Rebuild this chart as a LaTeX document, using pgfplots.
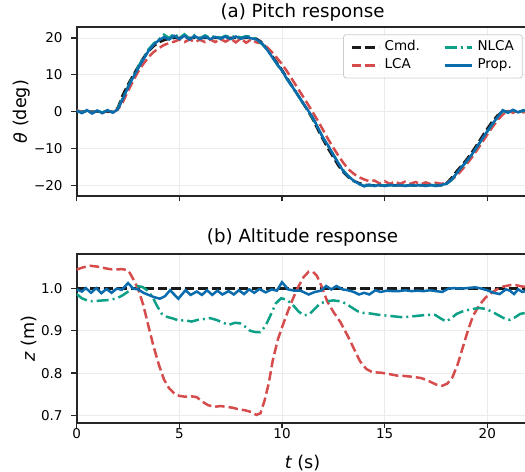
\documentclass[border=0pt]{standalone}
\usepackage{pgfplots}
\pgfplotsset{compat=1.18}
\usepackage{fontspec}
\setmainfont{DejaVu Sans}
\definecolor{cmdc}{HTML}{1A1A1A}
\definecolor{lcac}{HTML}{D64C4C}
\definecolor{nlcac}{HTML}{0FA088}
\definecolor{propc}{HTML}{0A6BAD}
\definecolor{gridc}{HTML}{EBEBEB}
\definecolor{spinec}{HTML}{262626}
\pgfplotsset{
  myaxis/.style={
    scale only axis, width=451.7bp, height=168.7bp,
    xmin=0, xmax=22,
    axis line style={spinec, line width=1.7bp},
    tick align=outside,
    major tick length=5.5bp,
    every tick/.style={spinec, line width=1.2bp},
    xtick={0,5,10,15,20},
    xtick pos=lower, ytick pos=left,
    grid=major,
    major grid style={gridc, line width=0.8bp},
    tick label style={font=\fontsize{13.5bp}{16bp}\selectfont},
    xticklabel style={inner sep=0pt, yshift=-0.5bp},
    yticklabel style={inner sep=0pt, xshift=-8.5bp},
    label style={font=\fontsize{17.6bp}{20bp}\selectfont, inner sep=0pt},
  },
  cmdst/.style={cmdc, line width=2.5bp, dash pattern=on 9.5bp off 4bp},
  lcast/.style={lcac, line width=2.5bp, dash pattern=on 9.5bp off 4bp},
  nlcast/.style={nlcac, line width=2.5bp, dash pattern=on 12bp off 4bp on 2bp off 4bp},
  propst/.style={propc, line width=2.5bp},
}
\begin{document}
\begin{tikzpicture}
% ---------------- bottom: altitude ----------------
\begin{axis}[myaxis, name=bot, at={(0,0)}, anchor=south west,
  ymin=0.6826, ymax=1.0818,
  ytick={0.7,0.8,0.9,1.0}, yticklabels={0.7,0.8,0.9,1.0},
  xticklabels={0,5,10,15,20},
  title={(b) Altitude response},
  every axis title/.style={at={(axis description cs:0.5,1.098)}, anchor=center, inner sep=0pt, font=\fontsize{18.2bp}{21bp}\selectfont},
  xlabel={{\itshape t} (s)},
  xlabel style={at={(axis description cs:0.5,-0.2371)}, anchor=center},
  ylabel={{\itshape z} (m)},
  ylabel style={at={(axis description cs:-0.087,0.5)}, anchor=south},
]
\addplot[cmdst] coordinates {(0,1.0) (22,1.0)};
\addplot[lcast] coordinates {(0,1.045)(0.3,1.050)(0.65,1.054)(1.0,1.052)(1.3,1.049)(1.6,1.046)(1.9,1.045)(2.2,1.046)(2.45,1.044)(2.6,1.036)(2.8,1.018)(3.0,0.998)(3.25,0.960)(3.5,0.910)(3.75,0.862)(4.0,0.820)(4.25,0.785)(4.5,0.764)(4.75,0.752)(5.0,0.746)(5.3,0.744)(5.6,0.745)(5.85,0.743)(6.1,0.733)(6.4,0.724)(6.7,0.720)(7.0,0.722)(7.3,0.720)(7.6,0.718)(7.9,0.714)(8.2,0.712)(8.5,0.708)(8.75,0.701)(8.95,0.705)(9.15,0.735)(9.35,0.775)(9.55,0.830)(9.8,0.880)(10.05,0.915)(10.3,0.948)(10.55,0.978)(10.8,1.005)(11.05,1.027)(11.3,1.040)(11.5,1.040)(11.7,1.030)(11.95,1.003)(12.2,0.970)(12.5,0.945)(12.85,0.920)(13.2,0.888)(13.5,0.858)(13.8,0.828)(14.1,0.810)(14.4,0.802)(14.8,0.801)(15.2,0.798)(15.6,0.794)(16.0,0.793)(16.4,0.791)(16.8,0.788)(17.2,0.780)(17.5,0.773)(17.8,0.770)(18.05,0.775)(18.3,0.790)(18.55,0.820)(18.8,0.860)(19.05,0.900)(19.3,0.935)(19.6,0.960)(19.9,0.978)(20.2,0.990)(20.5,0.999)(20.8,1.005)(21.1,1.008)(21.4,1.008)(21.7,1.005)(22.0,1.003)};
\addplot[nlcast] coordinates {(0,0.987)(0.25,0.977)(0.5,0.972)(0.75,0.970)(1.0,0.971)(1.3,0.972)(1.6,0.973)(1.95,0.977)(2.2,0.983)(2.45,0.991)(2.7,1.000)(2.95,1.006)(3.2,1.004)(3.45,0.995)(3.7,0.980)(3.9,0.960)(4.15,0.940)(4.4,0.933)(4.7,0.929)(5.0,0.924)(5.25,0.925)(5.6,0.922)(5.9,0.926)(6.2,0.928)(6.5,0.930)(6.8,0.926)(7.1,0.920)(7.4,0.914)(7.7,0.919)(7.95,0.918)(8.2,0.910)(8.45,0.900)(8.7,0.897)(8.95,0.897)(9.2,0.912)(9.45,0.938)(9.7,0.965)(9.95,0.977)(10.2,0.974)(10.5,0.963)(10.8,0.946)(11.05,0.937)(11.3,0.938)(11.6,0.952)(11.85,0.965)(12.2,0.970)(12.5,0.972)(12.8,0.970)(13.1,0.965)(13.4,0.955)(13.7,0.946)(14.0,0.942)(14.3,0.941)(14.7,0.938)(15.1,0.936)(15.5,0.934)(15.9,0.932)(16.3,0.934)(16.7,0.936)(17.1,0.938)(17.45,0.938)(17.7,0.930)(18.0,0.922)(18.25,0.930)(18.5,0.940)(18.8,0.946)(19.2,0.951)(19.6,0.954)(19.9,0.952)(20.2,0.946)(20.5,0.938)(20.8,0.930)(21.1,0.926)(21.35,0.932)(21.6,0.940)(22.0,0.944)};
\addplot[propst] coordinates {(0,0.998)(0.25,0.993)(0.45,1.001)(0.7,0.990)(0.95,1.001)(1.2,0.989)(1.45,0.999)(1.7,0.990)(1.95,1.000)(2.2,0.997)(2.5,1.013)(2.75,1.000)(3.0,0.998)(3.25,0.990)(3.5,0.985)(3.75,0.980)(4.05,0.976)(4.3,0.982)(4.55,0.996)(4.95,0.976)(5.3,0.996)(5.55,0.985)(5.85,0.993)(6.1,0.985)(6.35,0.996)(6.6,0.985)(6.85,0.995)(7.1,0.986)(7.4,0.994)(7.65,0.986)(7.9,0.996)(8.15,0.987)(8.4,0.998)(8.65,0.990)(8.9,0.999)(9.2,0.991)(9.5,0.998)(9.75,0.995)(10.0,1.015)(10.3,0.998)(10.6,0.995)(10.9,0.995)(11.3,0.986)(11.6,0.992)(11.9,0.995)(12.15,1.006)(12.4,0.998)(12.65,1.006)(12.95,0.998)(13.2,0.996)(13.5,0.992)(13.75,0.986)(14.0,0.990)(14.25,0.986)(14.55,0.996)(14.8,0.992)(15.1,0.995)(15.4,0.994)(15.7,0.994)(16.0,0.996)(16.3,0.994)(16.6,0.995)(16.9,0.994)(17.2,0.996)(17.5,0.994)(17.8,0.992)(18.1,1.000)(18.4,1.001)(18.7,1.000)(19.0,1.001)(19.4,1.003)(19.7,1.000)(20.0,0.996)(20.3,0.990)(20.6,0.987)(20.9,0.998)(21.1,0.995)(21.3,0.987)(21.5,0.998)(21.7,0.992)(22.0,0.996)};
\end{axis}
% ---------------- top: pitch ----------------
\begin{axis}[myaxis, name=top, at={(0,226.7bp)}, anchor=south west,
  ymin=-22.9, ymax=22.9,
  ytick={-20,-10,0,10,20}, yticklabels={−20,−10,0,10,20},
  xticklabels={},
  title={(a) Pitch response},
  every axis title/.style={at={(axis description cs:0.5,1.088)}, anchor=center, inner sep=0pt, font=\fontsize{18.2bp}{21bp}\selectfont},
  ylabel={{\itshape θ} (deg)},
  ylabel style={at={(axis description cs:-0.102,0.5)}, anchor=south},
  legend columns=2, transpose legend, legend cell align=left,
  legend image code/.code={\draw[#1] (0bp,0bp) -- (27bp,0bp);},
  legend style={at={(rel axis cs:1,1)}, anchor=north east, xshift=-5.7bp, yshift=-7bp,
    draw=black!20, line width=0.8bp, rounded corners=2.5bp, fill=white, fill opacity=0.8, text opacity=1,
    font=\fontsize{13.5bp}{16bp}\selectfont, inner xsep=7bp, inner ysep=5bp,
    nodes={inner sep=1.5bp, text height=9.8bp, text depth=2.6bp},
    row sep=2.5bp,
    /tikz/every odd column/.append style={column sep=3bp},
    /tikz/every even column/.append style={column sep=22bp}},
]
\addplot[cmdst] coordinates {(0,0)(1.75,0)(2.0,1.0)(2.25,4.6)(2.5,7.4)(2.75,9.9)(3.0,12.3)(3.25,14.6)(3.5,16.4)(3.75,17.8)(4.0,18.8)(4.25,19.4)(4.5,19.8)(4.75,20)(8.5,20)(8.75,19.8)(9.0,18.9)(9.25,17.3)(9.5,15.3)(9.75,13.3)(10.0,11.3)(10.25,9.1)(10.5,6.9)(10.75,4.7)(11.0,2.5)(11.25,0.3)(11.5,-2.1)(11.75,-4.9)(12.0,-7.6)(12.25,-10.1)(12.5,-12.4)(12.75,-14.7)(13.0,-16.5)(13.25,-17.9)(13.5,-18.8)(13.75,-19.4)(14.0,-19.8)(14.25,-20)(17.75,-20)(18.0,-19.5)(18.25,-18.0)(18.5,-16.2)(18.75,-14.6)(19.0,-12.9)(19.25,-11.0)(19.5,-8.9)(19.75,-6.7)(20.0,-4.6)(20.25,-2.6)(20.5,-1.0)(20.75,0)(22,0)};
\addlegendentry{Cmd.}
\addplot[lcast] coordinates {(0,0.5)(0.25,-0.3)(0.5,0.3)(0.75,-0.4)(1,0.2)(1.25,-0.4)(1.5,0.3)(1.75,-0.3)(2,0.6)(2.25,2.6)(2.5,5.6)(2.75,8.4)(3,10.9)(3.25,13.0)(3.5,14.8)(3.75,16.2)(4,17.2)(4.25,18.1)(4.5,18.6)(4.75,19.0)(5,19.6)(5.25,18.9)(5.5,19.6)(5.75,18.9)(6,19.5)(6.25,18.9)(6.5,19.6)(6.75,18.9)(7,19.7)(7.25,19.0)(7.5,19.8)(7.75,18.8)(8,19.9)(8.25,18.7)(8.5,19.6)(8.75,18.8)(9,18.6)(9.25,17.6)(9.5,16.2)(9.75,14.6)(10,12.9)(10.25,10.9)(10.5,8.7)(10.75,6.5)(11,4.3)(11.25,2.1)(11.5,-0.2)(11.75,-2.5)(12,-5.0)(12.25,-7.5)(12.5,-9.8)(12.75,-12.0)(13,-14.0)(13.25,-15.7)(13.5,-16.9)(13.75,-17.8)(14,-18.4)(14.25,-18.9)(14.5,-18.7)(14.75,-19.5)(15,-18.9)(15.25,-19.6)(15.5,-19.0)(15.75,-19.6)(16,-19.0)(16.25,-19.6)(16.5,-19.1)(16.75,-19.7)(17,-19.2)(17.25,-19.7)(17.5,-19.3)(17.75,-19.6)(18,-19.3)(18.25,-18.6)(18.5,-17.4)(18.75,-15.9)(19,-14.2)(19.25,-12.4)(19.5,-10.4)(19.75,-8.3)(20,-6.2)(20.25,-4.2)(20.5,-2.3)(20.75,-0.8)(21,0.3)(21.25,-0.3)(21.5,0.4)(21.75,-0.2)(22,0.3)};
\addlegendentry{LCA}
\addplot[nlcast] coordinates {(0,0.2)(0.25,-0.3)(0.5,0.3)(0.75,-0.3)(1.0,0.2)(1.25,-0.2)(1.5,0.3)(1.75,-0.2)(2.0,0.8)(2.25,3.8)(2.5,6.8)(2.75,9.6)(3.0,12.2)(3.25,14.7)(3.5,16.9)(3.75,18.5)(4.0,19.6)(4.25,20.9)(4.5,20.0)(4.75,21.2)(5.0,20.0)(5.25,21.0)(5.5,19.8)(5.75,20.8)(6.0,19.9)(6.25,20.7)(6.5,20.0)(6.75,20.6)(7.0,20.0)(7.25,20.6)(7.5,20.1)(7.75,20.6)(8.0,20.1)(8.25,20.5)(8.5,20.3)(8.75,19.7)(9.0,18.5)(9.25,17.0)(9.5,15.0)(9.75,12.9)(10.0,10.9)(10.25,8.8)(10.5,6.6)(10.75,4.6)(11.0,2.4)(11.25,0.4)(11.5,-1.8)(11.75,-4.5)(12.0,-7.0)(12.25,-9.4)(12.5,-11.6)(12.75,-14.0)(13.0,-16.0)(13.25,-17.7)(13.5,-18.9)(13.75,-19.7)(14.0,-20.1)(14.25,-20.0)(14.5,-20.1)(14.75,-19.9)(15.0,-20.1)(15.5,-19.9)(16.0,-20.1)(16.5,-19.9)(17.0,-20.1)(17.5,-19.9)(17.75,-20.0)(18.0,-19.7)(18.25,-18.6)(18.5,-16.9)(18.75,-15.1)(19.0,-13.5)(19.25,-11.7)(19.5,-9.6)(19.75,-7.5)(20.0,-5.4)(20.25,-3.4)(20.5,-1.6)(20.75,0.2)(21.0,-0.2)(21.25,0.3)(21.5,-0.1)(21.75,0.2)(22,0)};
\addlegendentry{NLCA}
\addplot[propst] coordinates {(0,0.3)(0.25,-0.4)(0.5,0.4)(0.75,-0.5)(1.0,0.3)(1.25,-0.4)(1.5,0.4)(1.75,-0.3)(2.0,0.6)(2.25,3.5)(2.5,6.6)(2.75,9.3)(3.0,11.8)(3.25,14.2)(3.5,16.5)(3.75,18.2)(4.0,19.4)(4.25,20.2)(4.5,19.6)(4.75,20.6)(5.0,19.7)(5.25,20.6)(5.5,19.6)(5.75,20.5)(6.0,19.7)(6.25,20.4)(6.5,19.7)(6.75,20.3)(7.0,19.8)(7.25,20.4)(7.5,19.7)(7.75,20.4)(8.0,19.8)(8.25,20.3)(8.5,19.9)(8.75,19.6)(9.0,18.7)(9.25,17.0)(9.5,15.0)(9.75,13.0)(10.0,11.1)(10.25,8.8)(10.5,6.8)(10.75,4.7)(11.0,2.6)(11.25,0.5)(11.5,-1.6)(11.75,-4.3)(12.0,-7.2)(12.25,-9.2)(12.5,-11.8)(12.75,-14.0)(13.0,-16.3)(13.25,-17.6)(13.5,-18.8)(13.75,-19.6)(14.0,-20.3)(14.25,-19.8)(14.5,-20.2)(14.75,-19.9)(15.0,-20.2)(15.25,-19.9)(15.5,-20.1)(15.75,-19.9)(16.0,-20.2)(16.25,-19.9)(16.5,-20.1)(16.75,-19.9)(17.0,-20.2)(17.25,-19.9)(17.5,-20.2)(17.75,-19.9)(18.0,-19.6)(18.25,-18.5)(18.5,-16.8)(18.75,-15.0)(19.0,-13.4)(19.25,-11.6)(19.5,-9.5)(19.75,-7.4)(20.0,-5.3)(20.25,-3.3)(20.5,-1.5)(20.75,0.4)(21.0,-0.3)(21.25,0.5)(21.5,-0.2)(21.75,0.4)(22,0)};
\addlegendentry{Prop.}
\end{axis}
\pgfresetboundingbox
\useasboundingbox (-76.7bp,-49.3bp) rectangle (448.3bp,422.7bp);
\end{tikzpicture}
\end{document}
